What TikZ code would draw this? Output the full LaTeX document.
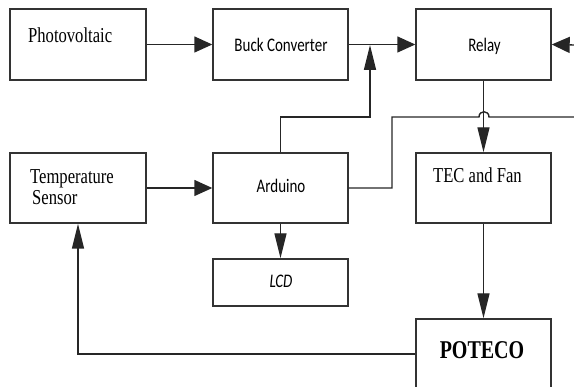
\documentclass[tikz,border=0pt]{standalone}
\usepackage{fontspec}
\usepackage{graphicx}
\setmainfont{Liberation Serif}
\newfontfamily\sansfam{Carlito}
\usetikzlibrary{arrows.meta}
\newcommand\vstretch[1]{\scalebox{1}[1.28]{#1}}
\tikzset{
  box/.style={draw=black!80, line width=1.4pt, rectangle, inner sep=0pt},
  conn/.style={draw=black!85, line width=1.4pt},
  htip/.style={conn, -{Triangle[length=18pt,width=16pt]}},
  vtip/.style={conn, -{Triangle[length=25pt,width=12pt]}},
  lbl/.style={inner sep=0pt, text=black},
  serif/.style={lbl, font=\fontsize{16.6}{18}\selectfont},
  sans/.style={lbl, font=\sansfam\fontsize{15}{17}\selectfont},
}
\begin{document}
\begin{tikzpicture}[x=1pt,y=-1pt]
\useasboundingbox (0,0) rectangle (574,387);
% boxes
\node[box, minimum width=136pt, minimum height=71pt] (pv) at (78,44.5) {};
\node[box, minimum width=135pt, minimum height=71pt] (buck) at (280.5,44.5) {};
\node[box, minimum width=135pt, minimum height=71pt] (relay) at (483.5,44.5) {};
\node[box, minimum width=136pt, minimum height=70pt] (ts) at (78,188) {};
\node[box, minimum width=135pt, minimum height=70pt] (ard) at (280.5,188) {};
\node[box, minimum width=135pt, minimum height=70pt] (tec) at (483.5,188) {};
\node[box, minimum width=135pt, minimum height=47pt] (lcd) at (280.5,282.5) {};
\node[box, minimum width=135pt, minimum height=70pt] (pot) at (483.5,354) {};
% labels
\node[serif, anchor=base west] (pvt) at (28,43) {\vstretch{Photovoltaic}};
\node[sans, anchor=base] (buckt) at (281,52) {\vstretch{Buck Converter}};
\node[sans, anchor=base] (relayt) at (484.5,52) {\vstretch{Relay}};
\node[serif, anchor=base west] (tst1) at (30,184) {\vstretch{Temperature}};
\node[serif, anchor=base west] (tst2) at (32,205) {\vstretch{Sensor}};
\node[sans, anchor=base] (ardt) at (281,193) {\vstretch{Arduino}};
\node[serif, anchor=base west] (tect) at (433,183) {\vstretch{TEC and Fan}};
\node[sans, anchor=base, font=\sansfam\itshape\fontsize{15}{17}\selectfont] (lcdt) at (281,288) {\vstretch{LCD}};
\node[serif, anchor=base, font=\bfseries\fontsize{20}{22}\selectfont] (pott) at (482,359) {\vstretch{POTECO}};
% free ends and bends
\coordinate (j1) at (370,45);
\coordinate (jb) at (370,117);
\coordinate (e1) at (574,45);
\coordinate (e2) at (574,117);
\coordinate (h1) at (479,117);
\coordinate (h2) at (489,117);
\coordinate (c1) at (392,117);
% connectors
\draw[htip] (pv.east) -- (buck.west);
\draw[htip] (buck.east) -- (relay.west);
\draw[htip] (e1) -- (relay.east);
\draw[htip] (ts.east) -- (ard.west);
\draw[vtip] (ard.north) |- (jb) -- (j1);
\draw[conn] (ard.east) -| (c1) -- (h1) .. controls (479,110) and (489,110) .. (h2) -- (e2);
\draw[vtip] (relay.south) -- (tec.north);
\draw[vtip] (ard.south) -- (lcd.north);
\draw[vtip] (tec.south) -- (pot.north);
\draw[vtip] (pot.west) -| (ts.south);
\end{tikzpicture}
\end{document}
